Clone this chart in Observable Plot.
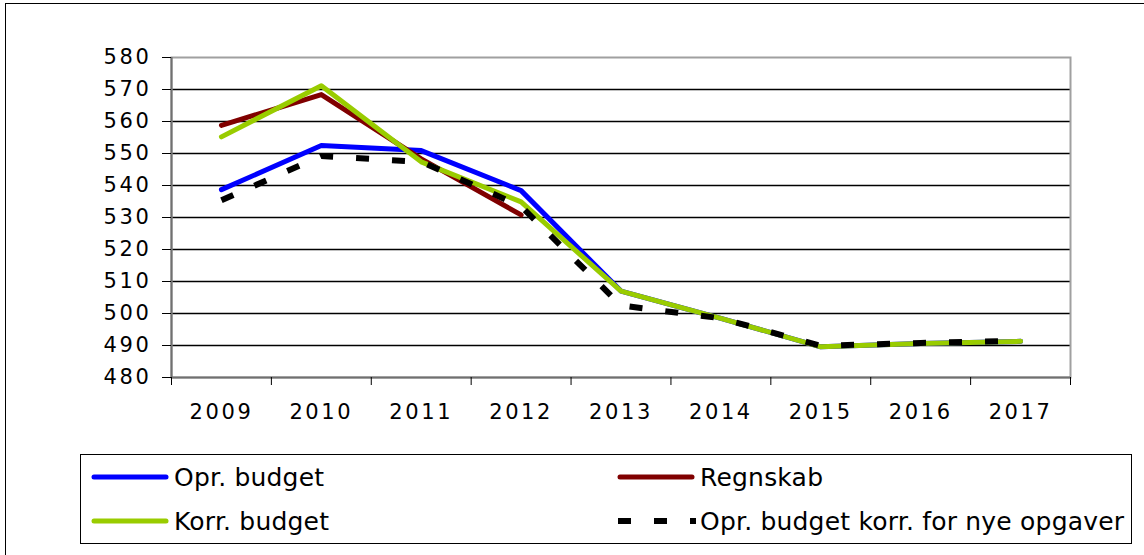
<!DOCTYPE html>
<html>
<head>
<meta charset="utf-8">
<script src="https://cdn.jsdelivr.net/npm/d3@7"></script>
<script src="https://cdn.jsdelivr.net/npm/@observablehq/plot@0.6"></script>
<style>
  html, body { margin: 0; padding: 0; background: #fff; overflow: hidden; }
  #wrap { position: relative; width: 1144px; height: 555px; overflow: hidden; background: #fff; }
  #outer { position: absolute; left: 5px; top: 3px; width: 1160px; height: 600px; border: 1.5px solid #000; pointer-events: none; z-index: 5; }
  #legend { position: absolute; left: 80px; top: 454px; width: 1050px; height: 88px; border: 1.5px solid #000; background: #fff;
            font-family: "DejaVu Sans", Verdana, sans-serif; font-size: 25px; letter-spacing: 0.2px; color: #000; }
  .item { position: absolute; display: flex; align-items: center; height: 30px; }
  .item svg { display: block; margin-right: 4px; }
</style>
</head>
<body>
<div id="wrap">
  <div id="chart"></div>
  <div id="legend"></div>
  <div id="outer"></div>
</div>
<script>
// ---- data ----
const years = [2009, 2010, 2011, 2012, 2013, 2014, 2015, 2016, 2017];
const oprBudget     = [538.7, 552.5, 550.9, 538.4, 507.0, 498.5, 489.6, 490.6, 491.3];
const regnskab      = [558.8, 568.4, 548.3, 530.8, null, null, null, null, null];
const korrBudget    = [555.2, 571.2, 547.4, 534.9, 507.0, 498.5, 489.6, 490.6, 491.3];
const oprBudgetKorr = [535.4, 549.2, 547.4, 533.5, 502.5, 498.5, 489.9, 490.8, 491.5];
const yTicks = [480, 490, 500, 510, 520, 530, 540, 550, 560, 570, 580];
const seriesNames = ["Opr. budget", "Regnskab", "Korr. budget", "Opr. budget korr. for nye opgaver"];

const colors = {
  "Opr. budget": "#0000ff",
  "Regnskab": "#800000",
  "Korr. budget": "#99cc00",
  "Opr. budget korr. for nye opgaver": "#000000"
};

const toRows = vals => years.map((year, i) => ({year, value: vals[i]}));
const rowsBlue = toRows(oprBudget);
const rowsRed = toRows(regnskab);
const rowsGreen = toRows(korrBudget);
const rowsDash = toRows(oprBudgetKorr);

const boundaries = years.map(y => y - 0.5).concat([years[years.length - 1] + 0.5]);
const yMin = yTicks[0], yMax = yTicks[yTicks.length - 1];

const solid = {x: "year", y: "value", strokeWidth: 5, strokeLinecap: "round", strokeLinejoin: "round"};

const chart = Plot.plot({
  width: 1144,
  height: 450,
  marginTop: 57,
  marginLeft: 171,
  marginRight: 74,
  marginBottom: 73,
  x: {type: "linear", domain: [boundaries[0], boundaries[boundaries.length - 1]]},
  y: {domain: [yMin, yMax]},
  style: {fontFamily: "DejaVu Sans, Verdana, sans-serif", fontSize: "21px", letterSpacing: "2.6px", color: "#000", background: "#fff", overflow: "visible"},
  marks: [
    Plot.gridY(yTicks.filter(v => v > yMin && v < yMax), {stroke: "#000", strokeOpacity: 1, strokeWidth: 1.3}),
    Plot.frame({stroke: "#a0a0a0", strokeWidth: 2}),
    Plot.ruleX([boundaries[0]], {stroke: "#707070", strokeWidth: 2}),
    Plot.ruleY([yMin], {stroke: "#707070", strokeWidth: 2}),
    Plot.axisY({ticks: yTicks, tickSize: 9, tickPadding: 11, tickFormat: d => String(d), stroke: "#000", strokeOpacity: 1, label: null}),
    Plot.axisX({ticks: boundaries, tickSize: 8, tickFormat: () => "", stroke: "#000", strokeOpacity: 1, label: null}),
    Plot.axisX({ticks: years, tickSize: 0, tickPadding: 27, tickFormat: d => String(d), label: null}),
    Plot.line(rowsBlue, {...solid, stroke: colors["Opr. budget"]}),
    Plot.line(rowsRed, {...solid, stroke: colors["Regnskab"]}),
    Plot.line(rowsGreen, {...solid, stroke: colors["Korr. budget"]}),
    Plot.line(rowsDash, {x: "year", y: "value", stroke: colors["Opr. budget korr. for nye opgaver"], strokeWidth: 6, strokeDasharray: "13,23", strokeLinecap: "butt", strokeLinejoin: "miter"})
  ]
});
document.getElementById("chart").appendChild(chart);

// ---- legend ----
const legend = document.getElementById("legend");
const legendPos = [
  {left: 9, top: 7},
  {left: 535, top: 7},
  {left: 9, top: 51},
  {left: 535, top: 51}
];
seriesNames.forEach((name, i) => {
  const div = document.createElement("div");
  div.className = "item";
  div.style.left = legendPos[i].left + "px";
  div.style.top = legendPos[i].top + "px";
  const dashed = i === 3;
  const sw = `<svg width="80" height="12"><line x1="${dashed ? 2 : 4}" y1="6" x2="${dashed ? 80 : 76}" y2="6" stroke="${colors[name]}" stroke-width="${dashed ? 6 : 5}" stroke-linecap="${dashed ? "butt" : "round"}" ${dashed ? 'stroke-dasharray="13,23"' : ""}/></svg>`;
  div.innerHTML = sw + `<span>${name}</span>`;
  legend.appendChild(div);
});
</script>
</body>
</html>
